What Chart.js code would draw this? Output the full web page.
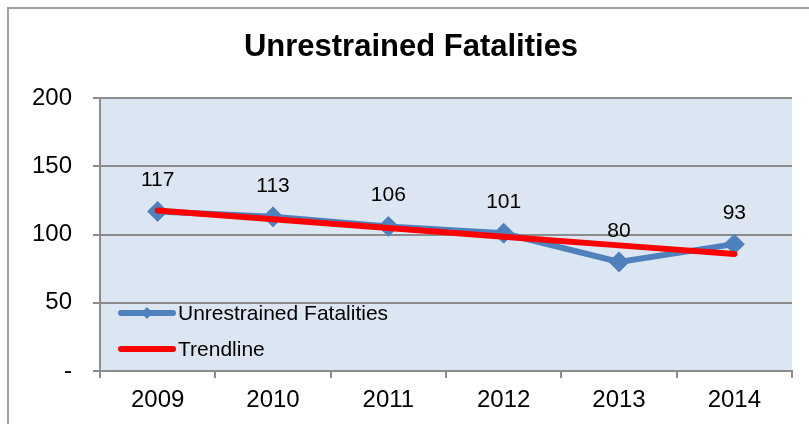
<!DOCTYPE html>
<html>
<head>
<meta charset="utf-8">
<script src="https://cdn.jsdelivr.net/npm/chart.js@4.4.0/dist/chart.umd.min.js"></script>
<style>
  html, body { margin: 0; padding: 0; background: #fff; }
  #wrap { width: 809px; height: 424px; position: relative; }
</style>
</head>
<body>
<div id="wrap"><canvas id="fatalityChart" width="809" height="424"></canvas></div>
<script>
'use strict';

const years = ['2009', '2010', '2011', '2012', '2013', '2014'];
const fatalities = [117, 113, 106, 101, 80, 93];
// trendline (straight red line)
const trendline = [117.6, 111.3, 104.9, 98.5, 92.1, 85.7];
const yTicks = [0, 50, 100, 150, 200];

const blue = '#4f81bd';
const red = '#ff0000';
const gridGray = '#8c8c8c';
const font = "'Liberation Sans', Arial, sans-serif";

// plot background + the two frame lines of the outer chart box
const backdrop = {
  id: 'backdrop',
  beforeDraw(chart) {
    const ctx = chart.ctx;
    const a = chart.chartArea;
    ctx.save();
    ctx.fillStyle = '#fff';
    ctx.fillRect(0, 0, chart.width, chart.height);
    ctx.fillStyle = '#dce6f2';
    ctx.fillRect(a.left, a.top, a.right - a.left, a.bottom - a.top);
    ctx.strokeStyle = '#a0a0a0';
    ctx.lineWidth = 2;
    ctx.beginPath();
    ctx.moveTo(8, chart.height);
    ctx.lineTo(8, 8);
    ctx.lineTo(chart.width, 8);
    ctx.stroke();
    ctx.restore();
  }
};

// numbers above each point
const pointLabels = {
  id: 'pointLabels',
  afterDatasetsDraw(chart) {
    const ctx = chart.ctx;
    const meta = chart.getDatasetMeta(0);
    ctx.save();
    ctx.font = '21px ' + font;
    ctx.fillStyle = '#000';
    ctx.textAlign = 'center';
    ctx.textBaseline = 'middle';
    meta.data.forEach((pt, i) => {
      ctx.fillText(String(fatalities[i]), pt.x, pt.y - 31);
    });
    ctx.restore();
  }
};

// legend drawn inside the plot, bottom-left, as in the original
const innerLegend = {
  id: 'innerLegend',
  afterDraw(chart) {
    const c = chart.ctx;
    const items = [
      { text: 'Unrestrained Fatalities', color: blue, marker: true, y: 313 },
      { text: 'Trendline', color: red, marker: false, y: 349 }
    ];
    c.save();
    c.font = '21px ' + font;
    c.textBaseline = 'middle';
    c.textAlign = 'left';
    for (let item of items) {
      c.strokeStyle = item.color;
      c.lineWidth = 6;
      c.lineCap = 'round';
      c.beginPath();
      c.moveTo(121, item.y);
      c.lineTo(173, item.y);
      c.stroke();
      if (item.marker) {
        c.fillStyle = item.color;
        c.beginPath();
        c.moveTo(147, item.y - 6);
        c.lineTo(153, item.y);
        c.lineTo(147, item.y + 6);
        c.lineTo(141, item.y);
        c.closePath();
        c.fill();
      }
      c.fillStyle = '#000';
      c.fillText(item.text, 178, item.y + 1);
    }
    c.restore();
  }
};

const ctx = document.getElementById('fatalityChart').getContext('2d');

const fatalityChart = new Chart(ctx, {
  type: 'line',
  data: {
    labels: years,
    datasets: [{
      label: 'Unrestrained Fatalities',
      data: fatalities,
      borderColor: blue,
      backgroundColor: blue,
      borderWidth: 6,
      pointStyle: 'rectRot',
      pointRadius: 10,
      pointHoverRadius: 10,
      pointBackgroundColor: blue,
      pointBorderColor: blue,
      pointBorderWidth: 1,
      tension: 0,
      order: 2
    }, {
      label: 'Trendline',
      data: trendline,
      borderColor: red,
      backgroundColor: red,
      borderWidth: 6,
      pointRadius: 0,
      pointHoverRadius: 0,
      borderCapStyle: 'round',
      tension: 0,
      order: 1
    }]
  },
  options: {
    responsive: false,
    animation: false,
    events: [],
    layout: { padding: { left: 30, right: 17, top: 10, bottom: 8 } },
    plugins: {
      title: {
        display: true,
        text: 'Unrestrained Fatalities',
        color: '#000',
        font: { family: font, size: 31, weight: 'bold' },
        padding: { top: 19, bottom: 32 }
      },
      legend: { display: false },
      tooltip: { enabled: false }
    },
    scales: {
      x: {
        offset: true,
        grid: {
          offset: true,
          drawOnChartArea: false,
          drawTicks: true,
          tickLength: 7,
          color: gridGray,
          lineWidth: 2
        },
        border: { color: gridGray, width: 2 },
        ticks: {
          color: '#000',
          font: { family: font, size: 24 },
          padding: 8,
          maxRotation: 0
        },
        afterFit(scale) { scale.height = 45; }
      },
      y: {
        min: 0,
        max: 200,
        afterBuildTicks(scale) {
          scale.ticks = yTicks.map(v => ({ value: v }));
        },
        grid: {
          color: gridGray,
          lineWidth: 2,
          drawTicks: true,
          tickLength: 7
        },
        border: { color: gridGray, width: 2 },
        ticks: {
          color: '#000',
          font: { family: font, size: 24 },
          padding: 21,
          callback: v => (v === 0 ? '-' : v)
        },
        afterFit(scale) { scale.width = 70; }
      }
    }
  },
  plugins: [backdrop, pointLabels, innerLegend]
});
</script>
</body>
</html>
